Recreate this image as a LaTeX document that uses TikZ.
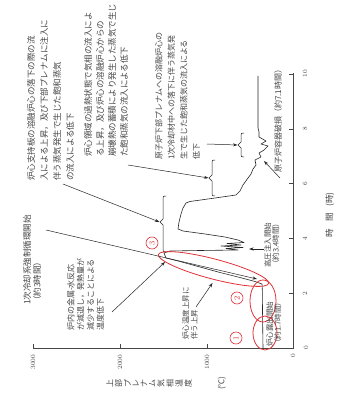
\documentclass[tikz,border=0pt]{standalone}
\usepackage{graphicx}
\usepackage{fontspec}
\newfontfamily\jp{Noto Sans CJK JP}
\usetikzlibrary{arrows.meta}
\definecolor{rd}{RGB}{222,50,55}
\definecolor{ink}{RGB}{70,70,70}
\newcommand{\rc}[1]{\rotatebox{90}{#1}\hspace{1.8pt}}
\begin{document}
\begin{tikzpicture}[x=1pt,y=1pt,
 ax/.style={line width=0.5pt, draw=ink},
 crv/.style={line width=0.6pt, draw=black!85, line join=round},
 arr/.style={line width=0.5pt, draw=black!85, -{Stealth[length=4.5pt,width=3pt]}},
 brc/.style={line width=0.5pt, draw=black!85},
 ann/.style={font=\jp\fontsize{8.5}{13}\selectfont, rotate=90, anchor=north west, inner sep=0pt, align=left, text=ink},
 num/.style={font=\fontsize{6.5}{7}\selectfont, rotate=90, inner sep=0pt, text=ink},
 oval/.style={draw=rd, line width=0.8pt},
 cnum/.style={circle, draw=rd, text=rd, line width=0.6pt, inner sep=0pt, minimum size=12pt, font=\fontsize{8}{8}\selectfont, rotate=90}
]
\useasboundingbox (0,0) rectangle (340,-409);
\fill[white] (0,0) rectangle (340,-409);

% axes
\draw[ax] (33,-348) -- (293,-348) -- (293,-73);
\foreach \x in {33,120,207} \draw[ax] (\x,-348) -- (\x,-344);
\foreach \y in {293.2,238.4,183.6,128.8,74} \draw[ax] (293,-\y) -- (289,-\y);
\node[num] (T3) at (33,-362) {3000};
\node[num] (T2) at (120,-362) {2000};
\node[num] (T1) at (207,-362) {1000};
\node[num] (T0) at (293,-356) {0};
\node[num] (H0) at (306,-348) {0};
\node[num] (H2) at (305,-293.2) {2};
\node[num] (H4) at (305,-238.4) {4};
\node[num] (H6) at (305,-183.6) {6};
\node[num] (H8) at (305,-128.8) {8};
\node[num] (H10) at (305,-74) {10};
\node[font=\jp\fontsize{8}{9}\selectfont, inner sep=0pt, text=ink, anchor=west] (ylab) at (106,-383) {\rc{上}\rc{部}\rc{プ}\rc{レ}\rc{ナ}\rc{ム}\rc{気}\rc{相}\rc{温}\rc{度}};
\node[font=\jp\fontsize{8}{9}\selectfont, rotate=90, inner sep=0pt, text=ink] (yunit) at (222,-383) {(℃)};
\node[font=\jp\fontsize{8.5}{9}\selectfont, rotate=90, inner sep=0pt, text=ink] (xlab) at (330,-215) {時\hspace{8pt}間\hspace{6pt}(時)};

% curve
\draw[crv] plot coordinates {
(263,-348) (262.6,-320) (262.3,-290) (262,-284)
(255,-281.5) (240,-277.5) (220,-272.5) (200,-267) (180,-261.5) (166,-258)
(164,-253) (170,-251) (200,-250.5) (238,-250)
(226,-248.5) (243,-247.5) (221,-246) (241,-245) (227,-243.5) (244,-242.5) (238,-240)
(225,-237) (205,-234) (183,-231) (178,-229) (179,-222) (181,-214) (183,-208) (186,-203) (190,-201.5)
(215,-198) (236,-195) (240,-191) (243,-185) (248,-178) (251,-174) (253,-169) (256,-165) (255,-160)
(261,-157) (259,-153) (264,-150) (268,-146) (261,-144) (266,-141) (259,-137) (259,-132) (258,-128)
(258,-110) (258,-90) (258,-76)};

% brackets
\draw[brc] (166,-196) .. controls (163,-196) .. (163,-199) -- (163,-219) -- (160,-222) -- (163,-225) -- (163,-249) .. controls (163,-252) .. (166,-252);
\draw[brc] (215,-160) .. controls (212,-160) .. (212,-163) -- (212,-175) -- (209,-178) -- (212,-181) -- (212,-193) .. controls (212,-196) .. (215,-196);
\draw[brc] (244,-133) .. controls (241,-133) .. (241,-136) -- (241,-142) -- (238,-145) -- (241,-148) -- (241,-154) .. controls (241,-157) .. (244,-157);

% red marks
\draw[oval] (265,-333) ellipse [x radius=12, y radius=17];
\draw[oval] (263,-301) ellipse [x radius=13, y radius=21];
\draw[oval, rotate around={-14.7:(213.5,-269)}] (213.5,-269) ellipse [x radius=57, y radius=10];
\node[cnum] (c1) at (236,-338) {1};
\node[cnum] (c2) at (237,-298) {2};
\node[cnum] (c3) at (152,-243) {3};

% annotations
\node[ann] (bA) at (27,-181) {炉心支持板の溶融炉心の落下の際の流\\入による上昇，及び下部プレナムに注入に\\伴う蒸気発生で生じた飽和蒸気\\の流入による低下};
\node[ann, font=\jp\fontsize{8.5}{12}\selectfont] (bB) at (84,-157) {炉心領域の過熱状態で気相の流入によ\\る上昇，及び炉心の溶融炉心からの\\崩壊熱の蓄積により発生した蒸気で生じ\\た飽和蒸気の流入による低下};
\node[ann, font=\jp\fontsize{8}{12.5}\selectfont] (bC) at (155,-160) {原子炉下部プレナムへの溶融炉心の\\1次冷却材中への落下に伴う蒸気発\\生で生じた飽和蒸気の流入による\\低下};
\node[ann, font=\jp\fontsize{8}{9.8}\selectfont] (bD) at (67,-331) {炉内の金属-水反応\\が減退し，発熱量が\\減少することによる\\温度低下};
\node[ann, font=\jp\fontsize{8.5}{10}\selectfont] (bE) at (23,-305) {1次冷却系強制循環開始\\（約3時間）};
\node[ann, font=\jp\fontsize{7.5}{8.5}\selectfont] (bF) at (182,-340) {炉心温度上昇に\\伴う上昇};
\node[ann, font=\jp\fontsize{7.5}{8}\selectfont] (bG) at (264,-268) {高圧注入開始\\（約3.4時間）};
\node[ann, font=\jp\fontsize{7.5}{8}\selectfont] (bH) at (266,-347) {炉心露出開始\\（約1.7時間）};
\node[font=\jp\fontsize{8}{9}\selectfont, rotate=90, anchor=west, inner sep=0pt, text=ink] (bI) at (278,-173) {原子炉容器破損（約7.1時間）};

% leader arrows
\coordinate (aS) at (63,-184);  \coordinate (aE) at (159.5,-222);
\coordinate (bS) at (128,-165); \coordinate (bE) at (208.5,-178);
\coordinate (cS) at (207,-144); \coordinate (cE) at (237.5,-145);
\coordinate (dS) at (112,-312); \coordinate (dE) at (165,-262);
\coordinate (eS) at (46,-230);  \coordinate (eE) at (257,-279);
\coordinate (fS) at (196,-307); \coordinate (fE) at (212.5,-283);
\coordinate (gS) at (264,-249); \coordinate (gE) at (249,-249);
\coordinate (iS) at (280,-178); \coordinate (iE) at (264,-161);
\draw[arr] (aS) -- (aE);
\draw[arr] (bS) -- (bE);
\draw[arr] (cS) -- (cE);
\draw[arr] (dS) -- (dE);
\draw[arr] (eS) -- (eE);
\draw[arr] (fS) -- (fE);
\draw[arr] (gS) -- (gE);
\draw[arr] (iS) -- (iE);
\end{tikzpicture}
\end{document}
